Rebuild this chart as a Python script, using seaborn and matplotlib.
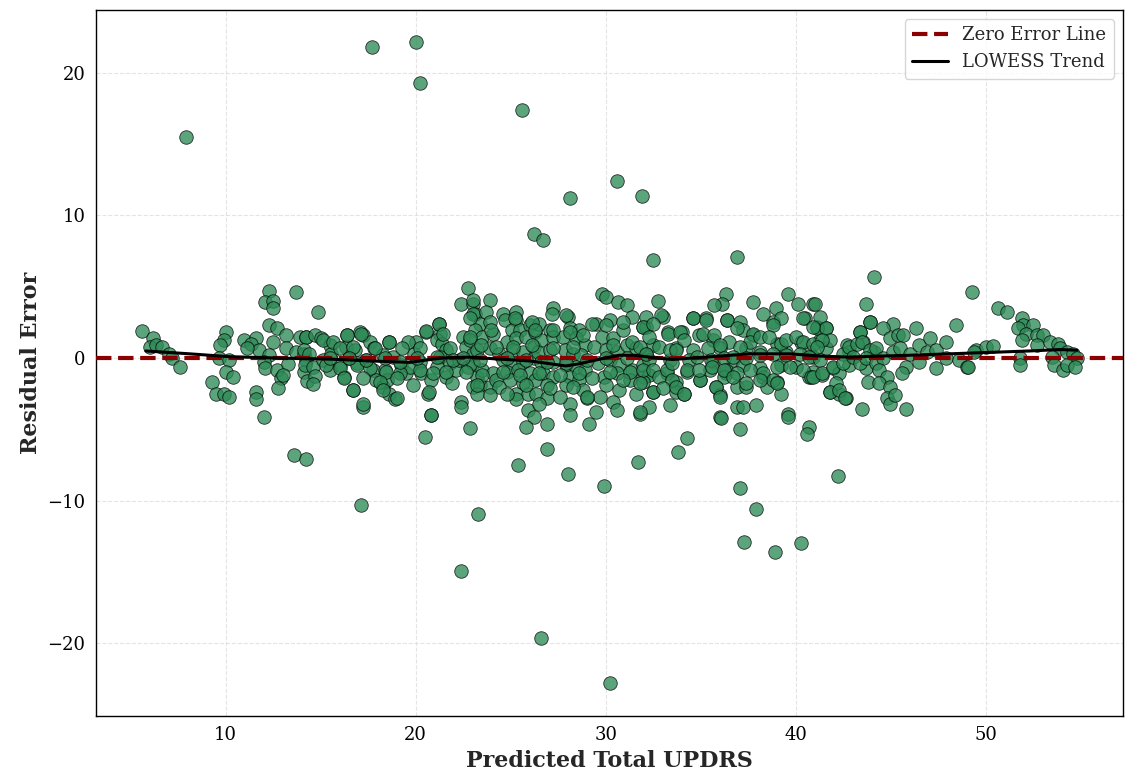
import numpy as np
import pandas as pd
import matplotlib
matplotlib.use("Agg")
import matplotlib.pyplot as plt
import seaborn as sns

# ---- data (predicted value, residual) ----
pred_left = [5.6,6.2,6.0,6.35,6.65,7.0,7.15,7.6,10.0,9.9,9.7,9.65,10.2,10.0,10.4,9.3,9.5,9.9,10.2,10.96,11.6,11.35,11.75,11.1,12.3,13.7,12.05,12.5,12.5,12.3,12.7,13.2,12.5,13.2,13.9,14.25,12.3,12.0,12.05,12.7,13.3,12.9,13.0,12.75,11.6,11.6,12.0,13.7,14.1,14.25,14.1,14.3,7.9]
resid_left = [1.9,1.4,0.8,0.9,0.8,0.3,0.0,-0.6,1.8,1.3,0.9,0.0,-0.1,-1.0,-1.35,-1.7,-2.5,-2.5,-2.75,1.3,1.4,1.0,0.6,0.7,4.7,4.6,3.9,4.0,3.5,2.3,2.1,1.6,1.1,0.7,1.5,1.5,0.2,-0.25,-0.7,-0.8,-0.4,-1.4,-1.2,-2.1,-2.4,-2.9,-4.1,0.45,0.3,-0.15,-0.95,-1.6,15.5]

pred_b = [14.85,14.25,14.7,15.0,14.1,14.4,14.15,14.6,14.7,14.6,
          15.5,15.55,15.1,15.5,16.0,16.2,16.7,17.2,
          16.4,17.05,17.2,16.35,16.8,16.5,16.9,17.4,17.75,17.9,18.3,18.6,18.9,
          17.6,17.8,18.6,18.3,18.8,18.4,19.2,19.5,18.5,
          20.0,19.9,20.2,19.7,20.3,20.55,20.8,20.65,
          20.8,20.5,
          21.2,21.3,21.1,21.4,21.6,21.3,21.8,21.1,21.6,22.1,21.9,22.5,22.65,23.0,22.3,22.75,23.2,23.0,
          22.4,23.0,23.1,
          22.4,22.4,22.85,22.75]
resid_b = [3.2,1.5,1.6,1.4,0.55,0.3,-0.5,-0.6,-1.25,-1.8,
           0.9,0.3,-0.15,-0.85,-0.5,-1.3,-2.25,-3.4,
           1.6,1.85,1.6,0.8,0.55,0.0,-0.35,-0.15,-0.85,-1.55,-2.0,-2.5,-2.9,
           1.15,0.7,1.15,0.2,0.1,-0.85,-0.5,-1.05,-1.55,
           1.15,0.3,-0.25,-0.6,-1.05,1.85,-1.55,-2.5,
           -4.0,-5.5,
           2.4,1.7,1.25,1.0,0.55,0.1,-0.35,-0.6,-1.3,-0.85,-1.75,1.5,0.8,0.3,-0.15,-0.6,-1.3,-2.0,
           3.8,3.8,3.1,
           -3.1,-3.4,-4.9,4.9]

pred_c = [23.0,23.0,23.9,23.7,23.4,
          23.1,23.5,24.05,22.85,23.2,23.9,24.4,23.0,23.5,24.05,23.4,23.9,24.25,23.2,
          24.6,25.3,24.7,25.3,25.05,25.5,26.0,24.8,25.3,25.8,26.3,25.1,25.65,26.2,24.6,25.1,25.65,26.2,24.8,25.4,26.0,24.95,25.65,26.3,25.3,25.9,25.3,25.9,26.2,25.8,26.9,
          27.2,27.15,
          26.5,27.05,26.6,27.2,26.45,27.05,26.6,27.2,26.7,27.2,26.9,26.35,26.9,26.5,
          28.0,28.1,28.6,27.75,28.45,28.9,27.85,28.3,28.7,27.9,28.45,28.9,28.1,28.6,27.9,28.8,28.1,28.1,29.0,29.1,29.5,
          29.8,30.0,
          29.5,30.2,30.65,31.1,29.8,30.4,30.9,31.4,31.96,29.4,30.0,30.6,31.1,31.6,32.1,29.6,30.2,30.7,31.4,31.96,29.9,30.6,31.3,32.0,30.0,30.7,29.7,30.4,30.6,31.8,31.6]
resid_c = [4.1,3.1,4.1,3.2,2.4,
           2.0,1.5,1.7,1.25,0.55,0.7,0.3,-0.35,-0.85,-1.05,-1.9,-2.0,-1.55,-2.5,
           3.1,3.25,2.65,2.65,2.0,2.0,2.3,1.15,1.4,1.5,1.85,0.55,0.45,0.8,-0.15,-0.35,-0.25,0.0,-0.95,-0.85,-1.05,-1.55,-1.75,-1.55,-2.5,-2.5,-2.9,-3.65,-4.1,-4.8,-4.6,
           3.5,3.1,
           2.4,2.0,1.25,1.5,0.45,0.55,-0.25,-0.25,-1.05,-1.3,-1.9,-2.5,-2.8,-3.2,
           2.9,2.1,2.0,1.5,1.4,0.9,0.55,0.3,0.2,-0.5,-0.6,-0.85,-1.3,-1.55,-1.9,-2.25,-3.2,-4.0,-2.8,-4.6,-3.75,
           4.5,4.3,
           2.4,2.65,3.9,3.7,1.5,1.4,2.0,2.9,2.2,0.8,0.55,0.45,0.9,0.7,0.3,-0.35,-0.15,-0.5,-0.85,-0.5,-1.3,-1.05,-1.55,-1.3,-1.9,-2.25,-2.7,-3.05,-3.65,-3.9,-2.5]

pred_d = [32.75,
          32.9,32.1,31.96,32.5,32.3,31.8,32.1,32.8,33.3,33.4,33.9,34.1,33.7,31.96,32.5,32.8,33.2,33.5,31.8,32.5,33.0,33.7,34.1,33.5,34.25,34.95,32.3,33.4,31.8,34.3,
          34.6,35.3,35.1,35.7,35.4,36.0,34.8,35.55,36.2,34.9,35.6,36.35,36.2,35.8,36.0,36.9,37.4,36.9,37.2,37.9,36.0,37.05,
          36.35,36.1,35.7,36.4,37.05,37.2,36.9,37.75,37.6,37.05,38.1,36.7,37.4,38.1,36.2,36.9,37.6,38.3,38.8,36.7,37.4,38.1,
          37.75,38.3,38.95,39.2,38.8,38.6,39.2,39.5,40.0,40.4,40.9,38.8,39.5,40.2,40.9,39.0,39.7,40.4,40.8,39.0,39.6,39.6,40.7,40.6,
          39.6,40.1,40.9,40.4,41.1]
resid_d = [4.0,
           3.0,2.9,2.2,2.4,1.5,0.8,0.3,0.8,1.7,0.55,1.85,1.25,0.55,-0.85,-0.85,-1.3,-0.85,-1.55,-1.75,-2.35,-2.1,-2.0,-2.5,-0.35,-0.85,-1.55,-3.4,-3.3,-3.75,-5.6,
           2.8,2.65,1.7,1.6,0.7,0.9,0.1,-0.15,0.0,-0.85,-0.6,-0.85,-1.3,-2.0,-2.7,-2.0,-2.0,-3.4,-3.4,-3.3,-4.1,-5.0,
           4.5,3.8,3.7,2.65,2.55,2.0,2.1,1.7,1.15,0.8,1.5,0.1,0.0,0.2,-0.85,-1.05,-0.85,-1.05,-1.55,-1.3,-1.75,-1.55,
           3.95,3.1,3.5,2.8,2.3,1.5,1.0,1.25,1.5,1.15,1.0,0.3,0.2,0.3,0.1,-0.6,-0.6,-0.85,-1.3,-1.75,-3.9,-4.1,-4.8,-5.3,
           4.5,3.8,3.8,2.8,2.1]

pred_e = [41.0,41.3,41.6,40.9,41.8,41.4,41.1,40.7,41.3,40.9,41.4,41.96,42.5,42.8,42.5,42.1,41.8,42.3,42.6,
          43.7,43.9,43.4,43.2,43.5,43.9,44.2,43.0,43.4,43.7,44.2,44.6,44.4,44.8,43.8,44.4,44.95,44.8,44.95,45.2,43.5,45.8,
          45.1,44.6,44.95,45.4,45.65,45.1,45.5,46.0,46.35,46.5,47.05,46.9,47.4,47.9,48.45,45.8,45.6,46.5,47.4,47.9,48.6,49.0,49.5,50.0,
          50.65,51.1,51.9,51.96,52.5,51.7,52.1,52.7,53.0,51.9,52.7,53.4,53.8,53.9,54.25,54.6,54.8,53.5,53.6,54.05,54.25,54.7,51.8,51.8,49.4,50.4,49.05,49.3]
resid_e = [3.8,2.9,2.1,2.2,1.25,1.25,0.8,0.1,-0.15,-1.3,-1.05,-0.6,0.3,0.8,-0.35,-1.75,-2.35,-2.25,-2.8,
           3.8,2.55,1.85,1.0,1.15,0.55,0.7,0.1,-0.35,0.0,-0.35,0.0,-0.85,-1.3,-1.65,-1.75,-2.0,-2.8,-3.2,-2.6,-3.6,-3.6,
           2.4,2.1,1.4,1.6,1.6,0.45,0.7,0.3,2.1,0.9,1.4,0.45,0.55,1.15,2.3,-0.6,-1.05,-0.25,-0.7,0.0,-0.15,-0.6,0.55,0.8,
           3.5,3.2,2.8,2.35,2.35,2.1,1.7,1.6,1.6,1.25,0.9,1.15,1.0,0.7,0.45,0.3,0.0,0.1,-0.5,-0.85,-0.5,-0.6,0.0,-0.5,0.45,0.85,-0.6,4.6]

pred_core1 = [15.1,15.65,16.4,17.1,18.6,19.6,20.55,21.2,21.45, 16.0,16.7,17.85,19.3,20.2,21.8,
              15.3,16.0,16.9,17.6,18.45,19.15,20.2,20.9,21.6, 16.2,17.2,18.1,19.0,19.85,20.7,
              16.7,18.3,19.0,17.2, 15.5,16.5,17.4,18.4,19.15,20.05,21.1,21.95]
resid_core1 = [1.25,1.15,1.6,1.7,1.15,1.15,1.9,2.4,1.7, 0.7,0.8,0.7,0.7,0.7,0.7,
               -0.5,-0.7,-0.5,-0.7,-0.95,-1.05,-0.85,-1.05,-0.95, -1.4,-1.4,-1.65,-1.4,-1.9,-2.35,
               -2.25,-2.25,-2.8,-3.2, 0.0,0.0,-0.15,0.0,-0.25,0.0,0.1,-0.15]
pred_core2 = [22.85,23.9,25.2,26.1,27.9,29.3, 23.98,26.3,27.2,28.1,28.8, 22.85,23.45,24.25,25.1,26.1,27.2,28.3,
              22.5,23.4,24.8,25.8,26.9,27.9,29.0, 22.65,23.5,24.6,25.5,26.5,27.6,28.6,29.3,
              23.2,24.4,25.8,27.05,28.3, 23.9,24.8,27.6,29.0]
resid_core2 = [2.8,2.55,2.8,2.55,3.0,2.4, 2.0,2.0,2.0,1.85,1.6, 1.5,0.9,0.8,0.8,0.9,0.7,0.8,
               0.0,-0.15,0.0,-0.15,-0.25,-0.35,-0.15, -0.95,-1.2,-0.95,-1.2,-1.05,-1.2,-1.05,-1.4,
               -1.9,-2.0,-1.9,-2.1,-2.0, -2.6,-2.5,-2.7,-2.7]
pred_core3 = [30.0,30.9,32.1,33.0,33.3,34.0,34.6,35.3,36.4, 34.9,35.65,36.5, 30.4,31.4,32.5,33.7,34.6,36.0,
              30.0,31.1,32.3,33.4,34.4,35.65,36.7, 30.2,31.3,32.3,33.2,34.25,35.5,36.35,
              30.9,31.96,33.7,34.95, 32.5,33.7,34.1,35.8,36.0]
resid_core3 = [2.3,2.55,2.2,2.9,1.85,1.85,2.8,2.8,2.65, 1.6,1.25,1.15, 0.9,1.15,0.9,0.7,0.55,0.7,
               0.0,0.0,-0.15,-0.15,-0.15,-0.25,-0.15, -0.95,-0.95,-1.2,-1.05,-0.95,-0.85,-1.05,
               -1.55,-1.65,-1.65,-1.55, -2.35,-2.35,-2.5,-2.0,-2.6]
pred_core4 = [38.8,40.5,41.1,41.6,43.4,43.9, 37.75,39.0,40.3,41.3,42.7,43.55, 37.4,38.1,39.5,40.7,41.6,42.8,44.1,
              37.2,38.1,39.2,40.0,40.9,41.96,42.8,43.7, 38.3,39.0,40.7,41.4,42.3, 38.5,39.2,41.8,42.3,42.65]
resid_core4 = [2.55,2.8,2.2,2.1,1.85,2.55, 1.6,1.0,1.15,1.25,0.9,1.15, 0.7,0.45,0.45,0.45,0.7,0.45,0.45,
               -0.5,-0.7,-0.5,-0.6,-0.95,-0.7,-0.5,-0.7, -1.3,-1.65,-1.3,-1.2,-1.05, -2.0,-2.5,-2.35,-2.5,-2.8]

pred_out = [17.7,20.0,20.2,25.6,30.6,31.9,28.1,26.2,26.7,32.5,36.9,44.1,
            17.1,13.6,14.2,22.4,23.3,25.4,26.9,26.6,28.0,29.9,30.2,31.7,33.8,37.05,37.3,37.9,38.9,40.3,42.2,36.05,20.8]
resid_out = [21.8,22.2,19.3,17.4,12.4,11.4,11.2,8.7,8.3,6.9,7.1,5.7,
             -10.3,-6.8,-7.1,-14.9,-10.9,-7.5,-6.4,-19.6,-8.1,-9.0,-22.8,-7.3,-6.6,-9.1,-12.9,-10.6,-13.6,-13.0,-8.3,-4.2,-4.0]

# LOWESS trend
trend_x = [5.8,8.1,10.2,12.8,15.5,17.6,19.7,21.3,22.8,24.4,26.0,27.1,27.9,28.6,29.7,30.7,31.5,32.3,33.5,34.5,36.0,37.6,39.7,41.3,42.8,44.4,46.0,48.1,50.2,52.3,53.9,54.8]
trend_y = [0.5,0.3,0.1,0.0,-0.07,-0.2,-0.3,0.0,0.07,-0.07,-0.2,-0.4,-0.55,-0.4,-0.07,0.2,0.2,0.07,-0.1,0.0,0.14,0.3,0.3,0.14,0.07,0.14,0.2,0.3,0.4,0.5,0.6,0.55]

groups = [(pred_left, resid_left), (pred_b, resid_b), (pred_c, resid_c),
          (pred_core1, resid_core1), (pred_core2, resid_core2),
          (pred_core3, resid_core3), (pred_core4, resid_core4),
          (pred_d, resid_d), (pred_e, resid_e), (pred_out, resid_out)]
px, py = [], []
for gx, gy in groups:
    n = min(len(gx), len(gy))
    if len(gx) != len(gy):
        print("length mismatch", len(gx), len(gy))
    px += list(gx[:n]); py += list(gy[:n])
df = pd.DataFrame({"Predicted": px, "Residual": py})

sns.set_theme(style="whitegrid")
plt.rcParams.update({
    "font.family": ["DejaVu Serif"],
    "axes.edgecolor": "black",
    "axes.linewidth": 1.0,
    "grid.linestyle": "--",
    "grid.color": "#d9d9d9",
    "grid.linewidth": 0.8,
    "xtick.major.size": 4,
    "ytick.major.size": 4,
    "xtick.color": "black",
    "ytick.color": "black",
    "xtick.labelsize": 13,
    "ytick.labelsize": 13,
})

fig, ax = plt.subplots(figsize=(11.26, 7.8), dpi=100)
fig.subplots_adjust(left=0.085, right=0.997, top=0.987, bottom=0.082)

sns.scatterplot(data=df, x="Predicted", y="Residual", ax=ax, s=95,
                color="#2e8b57", alpha=0.78, edgecolor="black", linewidth=0.6,
                legend=False, zorder=2)
ax.axhline(0, color="darkred", linestyle="--", linewidth=3, label="Zero Error Line", zorder=3)
sns.lineplot(x=trend_x, y=trend_y, ax=ax, color="black", linewidth=2.2,
             label="LOWESS Trend", zorder=4)

ax.set_xlim(3.16, 57.2)
ax.set_ylim(-25.1, 24.4)
ax.set_xticks([10, 20, 30, 40, 50])
ax.set_yticks([-20, -10, 0, 10, 20])
ax.set_xlabel("Predicted Total UPDRS", fontsize=16, fontweight="bold")
ax.set_ylabel("Residual Error", fontsize=16, fontweight="bold")
ax.grid(True, alpha=0.7)
for s in ax.spines.values():
    s.set_color("black")
    s.set_visible(True)
ax.legend(loc="upper right", fontsize=13, frameon=True, edgecolor="#cccccc", fancybox=True)

fig.savefig("out.png", dpi=100)
